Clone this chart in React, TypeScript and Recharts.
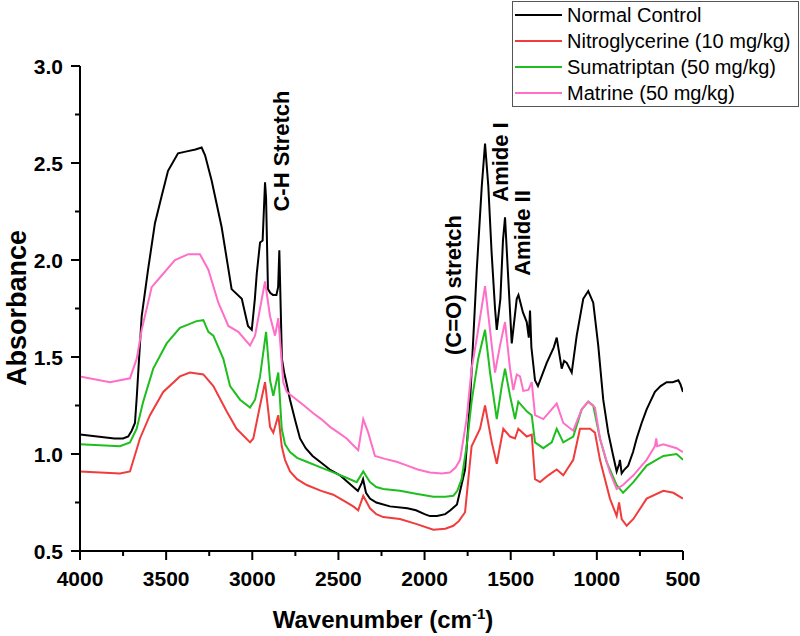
import React from "react";
import { LineChart, Line, XAxis, YAxis } from "recharts";

// ---- Data ----
const ncWn = [4000, 3900, 3800, 3750, 3720, 3700, 3681, 3670, 3660, 3642, 3605, 3565, 3526, 3489, 3431, 3380, 3330, 3294, 3274, 3236, 3178, 3120, 3061, 3025, 3003, 2985, 2974, 2955, 2940, 2926, 2920, 2909, 2895, 2880, 2860, 2850, 2843, 2835, 2828, 2815, 2800, 2781, 2750, 2723, 2690, 2650, 2607, 2550, 2491, 2440, 2400, 2387, 2365, 2357, 2340, 2317, 2280, 2201, 2100, 2050, 2000, 1969, 1928, 1880, 1850, 1812, 1765, 1736, 1697, 1668, 1649, 1630, 1611, 1591, 1581, 1560, 1545, 1533, 1514, 1494, 1465, 1455, 1429, 1407, 1395, 1388, 1380, 1359, 1342, 1291, 1250, 1233, 1204, 1190, 1175, 1146, 1117, 1079, 1050, 1021, 992, 963, 934, 905, 885, 870, 866, 856, 840, 818, 790, 769, 740, 711, 690, 663, 630, 595, 560, 527, 515, 500];
const ncAbs = [1.10, 1.09, 1.08, 1.08, 1.09, 1.12, 1.16, 1.30, 1.45, 1.71, 1.95, 2.19, 2.33, 2.46, 2.55, 2.56, 2.57, 2.58, 2.54, 2.41, 2.17, 1.85, 1.80, 1.66, 1.64, 1.80, 1.93, 2.09, 2.10, 2.40, 2.32, 1.85, 1.83, 1.82, 1.82, 1.86, 2.05, 1.75, 1.49, 1.42, 1.36, 1.28, 1.17, 1.08, 1.03, 0.99, 0.96, 0.92, 0.89, 0.85, 0.82, 0.81, 0.85, 0.87, 0.80, 0.77, 0.75, 0.73, 0.72, 0.71, 0.69, 0.68, 0.68, 0.69, 0.71, 0.74, 0.92, 1.27, 1.95, 2.38, 2.60, 2.38, 2.04, 1.75, 1.64, 1.80, 2.10, 2.22, 1.90, 1.57, 1.80, 1.82, 1.73, 1.68, 1.60, 1.74, 1.55, 1.38, 1.35, 1.47, 1.55, 1.60, 1.44, 1.48, 1.47, 1.42, 1.61, 1.80, 1.84, 1.78, 1.56, 1.28, 1.11, 0.99, 0.91, 0.95, 0.97, 0.90, 0.92, 0.94, 1.01, 1.08, 1.16, 1.23, 1.27, 1.32, 1.35, 1.37, 1.37, 1.38, 1.36, 1.32];

const ngWn = [4000, 3768, 3710, 3652, 3594, 3517, 3420, 3362, 3284, 3226, 3149, 3091, 3013, 2994, 2955, 2926, 2897, 2878, 2849, 2829, 2810, 2781, 2740, 2684, 2600, 2530, 2470, 2414, 2385, 2356, 2317, 2280, 2240, 2143, 2050, 1949, 1880, 1833, 1800, 1765, 1746, 1727, 1678, 1649, 1610, 1581, 1543, 1504, 1475, 1456, 1407, 1378, 1359, 1330, 1282, 1233, 1195, 1137, 1098, 1040, 1011, 982, 924, 885, 871, 856, 827, 788, 711, 614, 556, 500];
const ngAbs = [0.91, 0.90, 0.91, 1.08, 1.20, 1.32, 1.40, 1.42, 1.41, 1.35, 1.22, 1.13, 1.06, 1.08, 1.25, 1.37, 1.14, 1.11, 1.20, 1.04, 0.97, 0.91, 0.87, 0.84, 0.81, 0.79, 0.76, 0.73, 0.71, 0.785, 0.72, 0.69, 0.675, 0.665, 0.64, 0.61, 0.615, 0.63, 0.655, 0.70, 0.87, 1.04, 1.13, 1.25, 1.06, 0.95, 1.13, 1.09, 1.08, 1.13, 1.09, 1.10, 0.87, 0.855, 0.89, 0.92, 0.89, 0.97, 1.13, 1.13, 1.11, 0.97, 0.77, 0.68, 0.75, 0.665, 0.63, 0.665, 0.77, 0.81, 0.80, 0.77];

const suWn = [4000, 3768, 3710, 3671, 3633, 3575, 3497, 3420, 3323, 3284, 3255, 3226, 3168, 3129, 3071, 3013, 2984, 2955, 2920, 2897, 2878, 2849, 2829, 2810, 2781, 2740, 2684, 2600, 2530, 2460, 2394, 2356, 2317, 2280, 2240, 2143, 2050, 1949, 1880, 1833, 1810, 1785, 1756, 1727, 1689, 1649, 1620, 1581, 1552, 1533, 1504, 1475, 1456, 1407, 1378, 1359, 1311, 1262, 1233, 1195, 1137, 1088, 1050, 1021, 982, 944, 885, 848, 788, 711, 614, 537, 500];
const suAbs = [1.05, 1.04, 1.06, 1.13, 1.27, 1.44, 1.57, 1.65, 1.685, 1.69, 1.63, 1.61, 1.49, 1.35, 1.28, 1.24, 1.28, 1.40, 1.63, 1.38, 1.30, 1.42, 1.13, 1.05, 1.01, 0.98, 0.96, 0.93, 0.905, 0.88, 0.855, 0.91, 0.855, 0.83, 0.82, 0.81, 0.795, 0.78, 0.78, 0.785, 0.81, 0.87, 1.04, 1.27, 1.49, 1.64, 1.42, 1.18, 1.35, 1.44, 1.30, 1.18, 1.27, 1.22, 1.20, 1.06, 1.03, 1.06, 1.13, 1.06, 1.09, 1.23, 1.27, 1.25, 1.08, 0.96, 0.84, 0.80, 0.855, 0.94, 0.99, 1.00, 0.97];

const maWn = [4000, 3826, 3710, 3671, 3642, 3584, 3526, 3449, 3371, 3304, 3255, 3197, 3139, 3081, 3013, 2984, 2955, 2926, 2897, 2868, 2849, 2820, 2800, 2742, 2700, 2646, 2600, 2549, 2500, 2452, 2420, 2385, 2356, 2327, 2288, 2230, 2162, 2100, 2040, 1969, 1900, 1853, 1820, 1794, 1756, 1727, 1698, 1649, 1610, 1591, 1562, 1533, 1504, 1485, 1465, 1446, 1427, 1397, 1378, 1359, 1311, 1233, 1195, 1137, 1088, 1050, 1011, 982, 924, 885, 848, 788, 711, 663, 655, 650, 614, 537, 500];
const maAbs = [1.40, 1.37, 1.39, 1.49, 1.64, 1.86, 1.92, 2.00, 2.03, 2.03, 1.95, 1.78, 1.66, 1.63, 1.56, 1.61, 1.75, 1.89, 1.71, 1.61, 1.70, 1.37, 1.32, 1.28, 1.25, 1.21, 1.18, 1.14, 1.11, 1.08, 1.05, 1.02, 1.18, 1.11, 0.99, 0.975, 0.96, 0.94, 0.92, 0.905, 0.90, 0.905, 0.93, 0.97, 1.18, 1.44, 1.59, 1.865, 1.56, 1.42, 1.56, 1.68, 1.44, 1.33, 1.41, 1.40, 1.325, 1.33, 1.37, 1.20, 1.18, 1.26, 1.16, 1.12, 1.23, 1.27, 1.24, 1.08, 0.905, 0.82, 0.84, 0.89, 0.97, 1.04, 1.08, 1.04, 1.05, 1.03, 1.01];

const seriesNames = ["Normal Control", "Nitroglycerine (10 mg/kg)", "Sumatriptan (50 mg/kg)", "Matrine (50 mg/kg)"];
const seriesColors = ["#000000", "#f03c3c", "#1ebe1e", "#ff6ec7"];

const xTicks = [4000, 3750, 3500, 3250, 3000, 2750, 2500, 2250, 2000, 1750, 1500, 1250, 1000, 750, 500];
const yTicks = [0.5, 0.75, 1.0, 1.25, 1.5, 1.75, 2.0, 2.25, 2.5, 2.75, 3.0];

const annotations = [
  { text: "C-H Stretch", x: 281, y: 151 },
  { text: "(C=O) stretch", x: 453, y: 285 },
  { text: "Amide I", x: 500, y: 162 },
  { text: "Amide II", x: 522, y: 233 },
];

const zip = (wn: number[], ab: number[]) => wn.map((w, i) => ({ wn: w, a: ab[i] }));
const seriesData = [zip(ncWn, ncAbs), zip(ngWn, ngAbs), zip(suWn, suAbs), zip(maWn, maAbs)];

const FONT = "'Liberation Sans', Arial, sans-serif";

const XTick = (props: any) => {
  const { x, y, payload } = props;
  const major = payload.value % 500 === 0;
  return (
    <g>
      <line x1={x} y1={y} x2={x} y2={y + (major ? 9 : 5)} stroke="#000" strokeWidth={2} />
      {major && (
        <text x={x} y={y + 35} textAnchor="middle" fontFamily={FONT} fontWeight="bold" fontSize={21} fill="#000">
          {payload.value}
        </text>
      )}
    </g>
  );
};

const YTick = (props: any) => {
  const { x, y, payload } = props;
  const major = Math.abs(payload.value * 2 - Math.round(payload.value * 2)) < 1e-6;
  return (
    <g>
      <line x1={x} y1={y} x2={x - (major ? 9 : 5)} y2={y} stroke="#000" strokeWidth={2} />
      {major && (
        <text x={x - 17} y={y} textAnchor="end" dominantBaseline="central" fontFamily={FONT} fontWeight="bold" fontSize={21} fill="#000">
          {payload.value.toFixed(1)}
        </text>
      )}
    </g>
  );
};

export default function App() {
  return (
    <div style={{ position: "absolute", left: 0, top: 0, width: 800, height: 636, background: "#fff" }}>
      <LineChart width={800} height={636} margin={{ top: 66, right: 117, bottom: 25, left: 0 }}>
        <XAxis
          dataKey="wn"
          type="number"
          domain={[500, 4000]}
          reversed
          ticks={xTicks}
          interval={0}
          allowDataOverflow
          height={60}
          tickSize={0}
          tickMargin={0}
          tickLine={false}
          axisLine={{ stroke: "#000", strokeWidth: 2 }}
          tick={<XTick />}
        />
        <YAxis
          dataKey="a"
          type="number"
          domain={[0.5, 3.0]}
          ticks={yTicks}
          interval={0}
          allowDataOverflow
          width={80}
          tickSize={0}
          tickMargin={0}
          tickLine={false}
          axisLine={{ stroke: "#000", strokeWidth: 2 }}
          tick={<YTick />}
        />
        {seriesData.map((d, i) => (
          <Line
            key={seriesNames[i]}
            data={d}
            dataKey="a"
            name={seriesNames[i]}
            stroke={seriesColors[i]}
            strokeWidth={2}
            dot={false}
            activeDot={false}
            type="linear"
            isAnimationActive={false}
          />
        ))}
      </LineChart>
      <svg width={800} height={636} style={{ position: "absolute", left: 0, top: 0, pointerEvents: "none" }}>
        {annotations.map((a) => (
          <text
            key={a.text}
            x={a.x}
            y={a.y}
            transform={`rotate(-90 ${a.x} ${a.y})`}
            textAnchor="middle"
            dominantBaseline="central"
            fontFamily={FONT}
            fontWeight="bold"
            fontSize={22}
            fill="#000"
          >
            {a.text}
          </text>
        ))}
        <text
          x={17}
          y={308}
          transform="rotate(-90 17 308)"
          textAnchor="middle"
          dominantBaseline="central"
          fontFamily={FONT}
          fontWeight="bold"
          fontSize={27}
          fill="#000"
        >
          Absorbance
        </text>
        <text x={383} y={628} textAnchor="middle" fontFamily={FONT} fontWeight="bold" fontSize={24} fill="#000">
          Wavenumber (cm
          <tspan dy={-9} fontSize={15}>-1</tspan>
          <tspan dy={9}>)</tspan>
        </text>
        <rect x={512.5} y={1.5} width={286} height={105} fill="#fff" stroke="#555" strokeWidth={1} />
        {seriesNames.map((n, i) => (
          <g key={n}>
            <line x1={515} x2={562} y1={15 + i * 26} y2={15 + i * 26} stroke={seriesColors[i]} strokeWidth={2} />
            <text x={567} y={15 + i * 26} dominantBaseline="central" fontFamily={FONT} fontSize={20} fill="#000">
              {n}
            </text>
          </g>
        ))}
      </svg>
    </div>
  );
}
